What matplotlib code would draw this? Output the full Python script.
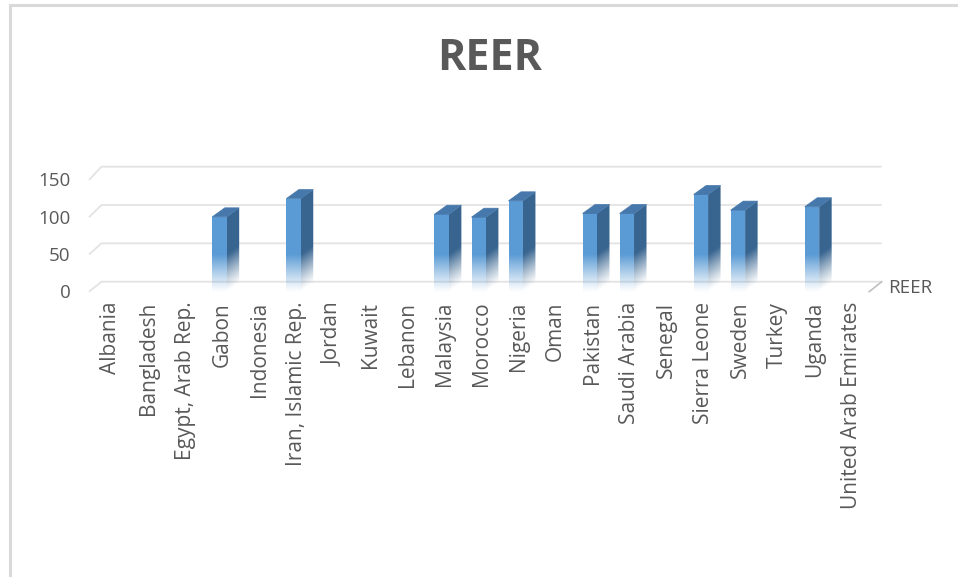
import numpy as np
import matplotlib
matplotlib.use("Agg")
import matplotlib.pyplot as plt
from matplotlib.patches import Polygon, Rectangle

# ---- data -------------------------------------------------------------
countries = [
    "Albania", "Bangladesh", "Egypt, Arab Rep.", "Gabon", "Indonesia",
    "Iran, Islamic Rep.", "Jordan", "Kuwait", "Lebanon", "Malaysia",
    "Morocco", "Nigeria", "Oman", "Pakistan", "Saudi Arabia", "Senegal",
    "Sierra Leone", "Sweden", "Turkey", "Uganda", "United Arab Emirates",
]
reer = [
    None, None, None, 100.5, None,
    125, None, None, None, 104,
    100, 122, None, 105, 105, None,
    130.5, 109.5, None, 114, None,
]
value_ticks = [0, 50, 100, 150]
series_name = "REER"
title = "REER"

# ---- style --------------------------------------------------------------
TEXT = "#595959"
GRID = "#e3e3e3"
FRONT = np.array([0x5b, 0x9b, 0xd5]) / 255
SIDE = np.array([0x38, 0x65, 0x90]) / 255
TOP = np.array([0x46, 0x78, 0xab]) / 255
FONT = "Open Sans"

W, H = 958, 577
fig = plt.figure(figsize=(W / 100, H / 100), dpi=100)
fig.patch.set_facecolor("white")

# chart frame (partly cropped at right and bottom)
fig.add_artist(Rectangle((9.5 / W, -0.05), 1.2, 1.05 - 4.5 / H,
                         transform=fig.transFigure, fill=False,
                         edgecolor="#d9d9d9", linewidth=2.2))

fig.text(490 / W, 1 - 58 / H, title, ha="center", va="center",
         fontsize=31, fontweight="bold", color=TEXT, family=FONT)

# plot area: pixel box 80..900 (x), 150..300 (y from top)
ax_l, ax_r, ax_t, ax_b = 80, 900, 150, 300
ax = fig.add_axes([ax_l / W, 1 - ax_b / H, (ax_r - ax_l) / W, (ax_b - ax_t) / H])
px_x = 37.03          # pixels per category
x0_px = 108.4         # pixel position of category 0
px_y = 0.745          # pixels per value unit (front plane)
y0_px = 291.7         # pixel row of value 0 (front plane)
ax.set_xlim(-(x0_px - ax_l) / px_x, (ax_r - x0_px) / px_x)
ax.set_ylim(-(ax_b - y0_px) / px_y, (y0_px - ax_t) / px_y)
ax.axis("off")
ax.set_facecolor("none")

# depth of the 3-D box
DX = 12.5 / px_x      # horizontal depth offset (categories)
DY_BAR = 9.0 / px_y   # vertical depth offset of the bars (values)


def back(v):
    """Value on the front plane mapped to the back wall (perspective)."""
    return v * 1.0295 + 13.4


x_front_left = (89 - x0_px) / px_x
x_back_left = x_front_left + DX
x_back_right = (881.7 - x0_px) / px_x
x_front_right = x_back_right - DX

# back wall gridlines with their slanted side-wall segment
for v in value_ticks:
    ax.plot([x_front_left, x_back_left, x_back_right],
            [v, back(v), back(v)], color=GRID, lw=1.3, zorder=1,
            solid_capstyle="butt")
    ax.text(x_front_left - 0.5, v - 1.8, str(v), ha="right", va="center",
            fontsize=13.5, color=TEXT, family=FONT)

# depth (series) axis at the right with its label
ax.plot([x_front_right, x_back_right], [0, back(0)], color="#bfbfbf",
        lw=1.2, zorder=1)
ax.text(x_back_right + 0.17, 5, series_name, ha="left", va="center",
        fontsize=13.5, color=TEXT, family=FONT)

# category labels
for i, name in enumerate(countries):
    ax.text(i + 0.07, -13.5, name, rotation=90, ha="center", va="top",
            fontsize=15, color=TEXT, family=FONT)

FADE = 50.0  # value range over which the bars fade out to white


def shaded(poly_xy, extent, rgb, alpha_fn, z):
    patch = Polygon(poly_xy, closed=True, facecolor="none",
                    edgecolor="none", zorder=z)
    ax.add_patch(patch)
    xa, xb, ya, yb = extent
    nx, ny = 40, 200
    xs = np.linspace(xa, xb, nx)
    ys = np.linspace(ya, yb, ny)
    gx, gy = np.meshgrid(xs, ys)
    img = np.zeros((ny, nx, 4))
    img[..., :3] = rgb
    img[..., 3] = alpha_fn(gx, gy)
    im = ax.imshow(img, extent=extent, origin="lower", aspect="auto",
                   interpolation="bilinear", zorder=z)
    im.set_clip_path(patch)


half_w = 7.2 / px_x
for i, v in enumerate(reer):
    if v is None:
        continue
    xl, xr = i - half_w, i + half_w
    vt = v + DY_BAR

    # front face
    shaded([(xl, 0), (xr, 0), (xr, v), (xl, v)], (xl, xr, 0, v), FRONT,
           lambda gx, gy: np.clip(gy / FADE, 0.04, 1.0) ** 1.1, 3)

    # right side face (floor edge rises along the depth)
    def side_alpha(gx, gy, xr=xr):
        base = (gx - xr) / DX * DY_BAR
        return np.clip((gy - base) / FADE, 0.0, 1.0) ** 1.2

    shaded([(xr, 0), (xr + DX, DY_BAR), (xr + DX, vt), (xr, v)],
           (xr, xr + DX, 0, vt), SIDE, side_alpha, 2)

    # top face
    ax.add_patch(Polygon([(xl, v), (xr, v), (xr + DX, vt), (xl + DX, vt)],
                         closed=True, facecolor=TOP, edgecolor=TOP,
                         lw=0.5, zorder=4))

fig.savefig("out.png", dpi=100, facecolor="white")
